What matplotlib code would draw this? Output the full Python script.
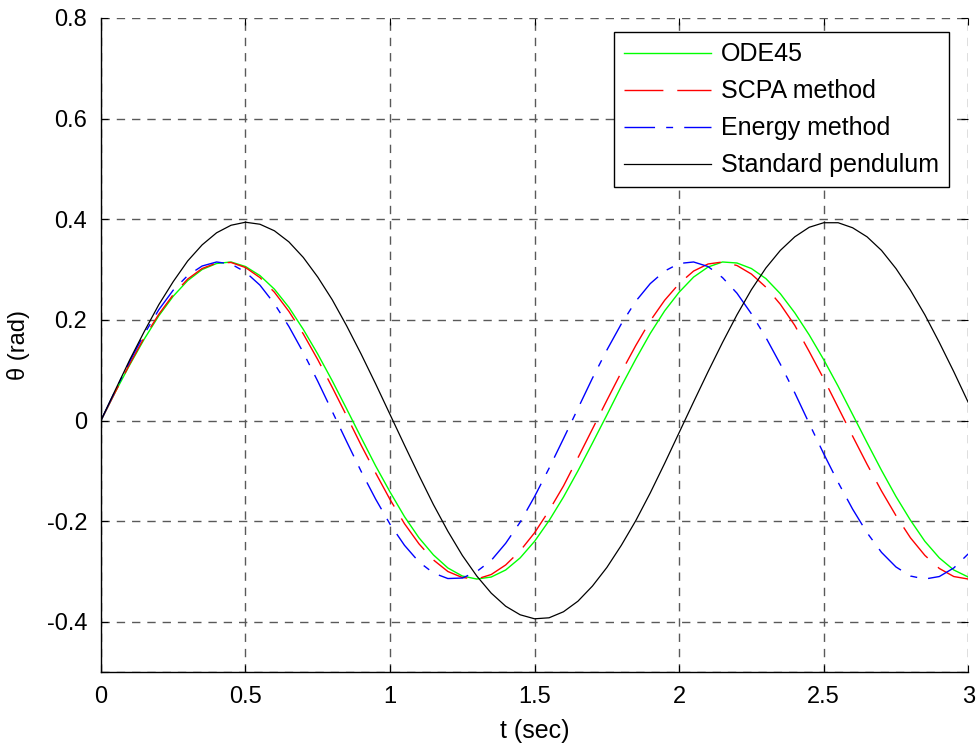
import numpy as np
import matplotlib
matplotlib.use("Agg")
import matplotlib.pyplot as plt

plt.rcParams['font.family'] = ['Liberation Sans', 'DejaVu Sans']

#-------------Data-------------
t = [0.00, 0.05, 0.10, 0.15, 0.20, 0.25, 0.30, 0.35, 0.40, 0.45,
     0.50, 0.55, 0.60, 0.65, 0.70, 0.75, 0.80, 0.85, 0.90, 0.95,
     1.00, 1.05, 1.10, 1.15, 1.20, 1.25, 1.30, 1.35, 1.40, 1.45,
     1.50, 1.55, 1.60, 1.65, 1.70, 1.75, 1.80, 1.85, 1.90, 1.95,
     2.00, 2.05, 2.10, 2.15, 2.20, 2.25, 2.30, 2.35, 2.40, 2.45,
     2.50, 2.55, 2.60, 2.65, 2.70, 2.75, 2.80, 2.85, 2.90, 2.95,
     3.00]

ode45 = [0.000, 0.057, 0.111, 0.162, 0.208, 0.247, 0.278, 0.300, 0.312, 0.315,
         0.306, 0.288, 0.261, 0.225, 0.181, 0.132, 0.079, 0.023, -0.034, -0.090,
         -0.142, -0.191, -0.233, -0.267, -0.293, -0.309, -0.315, -0.311, -0.297, -0.273,
         -0.240, -0.199, -0.152, -0.100, -0.045, 0.011, 0.068, 0.122, 0.173, 0.218,
         0.255, 0.285, 0.305, 0.315, 0.313, 0.302, 0.282, 0.252, 0.214, 0.170,
         0.121, 0.068, 0.012, -0.044, -0.099, -0.151, -0.198, -0.240, -0.273, -0.297,
         -0.311]

scpa = [0.000, 0.057, 0.113, 0.165, 0.211, 0.250, 0.281, 0.302, 0.313, 0.314,
        0.304, 0.284, 0.255, 0.217, 0.172, 0.121, 0.066, 0.009, -0.049, -0.104,
        -0.157, -0.205, -0.245, -0.277, -0.300, -0.312, -0.315, -0.306, -0.287, -0.259,
        -0.223, -0.179, -0.130, -0.074, -0.017, 0.040, 0.096, 0.149, 0.198, 0.239,
        0.272, 0.297, 0.311, 0.315, 0.308, 0.291, 0.265, 0.231, 0.189, 0.137,
        0.083, 0.026, -0.031, -0.087, -0.140, -0.189, -0.233, -0.268, -0.294, -0.310,
        -0.315]

energy = [0.000, 0.060, 0.118, 0.172, 0.220, 0.259, 0.288, 0.307, 0.315, 0.311,
          0.295, 0.269, 0.232, 0.187, 0.135, 0.078, 0.018, -0.042, -0.101, -0.156,
          -0.206, -0.248, -0.281, -0.303, -0.314, -0.313, -0.300, -0.278, -0.244, -0.202,
          -0.151, -0.095, -0.036, 0.024, 0.084, 0.140, 0.192, 0.237, 0.272, 0.297,
          0.312, 0.315, 0.306, 0.284, 0.253, 0.212, 0.165, 0.112, 0.055, -0.006,
          -0.066, -0.123, -0.176, -0.223, -0.262, -0.291, -0.309, -0.315, -0.310, -0.293,
          -0.265]

standard = [0.000, 0.061, 0.121, 0.177, 0.230, 0.276, 0.317, 0.349, 0.373, 0.388,
            0.394, 0.390, 0.377, 0.355, 0.324, 0.285, 0.240, 0.188, 0.132, 0.073,
            0.012, -0.049, -0.109, -0.167, -0.220, -0.268, -0.309, -0.343, -0.369, -0.386,
            -0.394, -0.392, -0.380, -0.359, -0.329, -0.292, -0.248, -0.199, -0.144, -0.085,
            -0.024, 0.037, 0.097, 0.155, 0.210, 0.260, 0.303, 0.338, 0.365, 0.384,
            0.393, 0.393, 0.383, 0.365, 0.338, 0.302, 0.259, 0.210, 0.155, 0.097,
            0.036]

labels = ["ODE45", "SCPA method", "Energy method", "Standard pendulum"]
xticks = [0, 0.5, 1, 1.5, 2, 2.5, 3]
xtick_labels = ["0", "0.5", "1", "1.5", "2", "2.5", "3"]
yticks = [-0.4, -0.2, 0, 0.2, 0.4, 0.6, 0.8]
ytick_labels = ["-0.4", "-0.2", "0", "0.2", "0.4", "0.6", "0.8"]

#-------------Plot-------------
fig = plt.figure(figsize=(9.8, 7.46), dpi=100)
ax = fig.add_axes([0.103, 0.099, 0.885, 0.877])

ax.plot(t, ode45, color='#00ff00', linewidth=1.0, label=labels[0])
ax.plot(t, scpa, color='red', linewidth=1.0, linestyle=(0, (28, 10)), label=labels[1])
ax.plot(t, energy, color='blue', linewidth=1.0, linestyle=(0, (22, 8, 5, 8)), label=labels[2])
ax.plot(t, standard, color='black', linewidth=0.9, label=labels[3])

ax.set_xlim(0, 3)
ax.set_ylim(-0.5, 0.8)
ax.set_xticks(xticks)
ax.set_xticklabels(xtick_labels)
ax.set_yticks(yticks + [-0.5])
ax.set_yticklabels(ytick_labels + [""])
ax.tick_params(direction='in', length=5, width=0.8, labelsize=17,
               top=True, right=True, pad=10)

ax.grid(True, color='0.35', linestyle=(0, (6, 5)), linewidth=1.0)
ax.spines['top'].set_visible(False)
ax.spines['right'].set_visible(False)
for s in ['left', 'bottom']:
    ax.spines[s].set_linewidth(1.0)

ax.set_xlabel("t (sec)", fontsize=18, labelpad=8)
ax.set_ylabel("θ (rad)", fontsize=17, labelpad=12)

leg = ax.legend(loc='upper right', fontsize=18, handlelength=3.5,
                handletextpad=0.4, fancybox=False, framealpha=1.0,
                borderpad=0.4, borderaxespad=0.0, labelspacing=0.52,
                bbox_to_anchor=(0.978, 0.978))
leg.get_frame().set_edgecolor('black')
leg.get_frame().set_linewidth(1.0)

fig.savefig("out.png", dpi=100)
